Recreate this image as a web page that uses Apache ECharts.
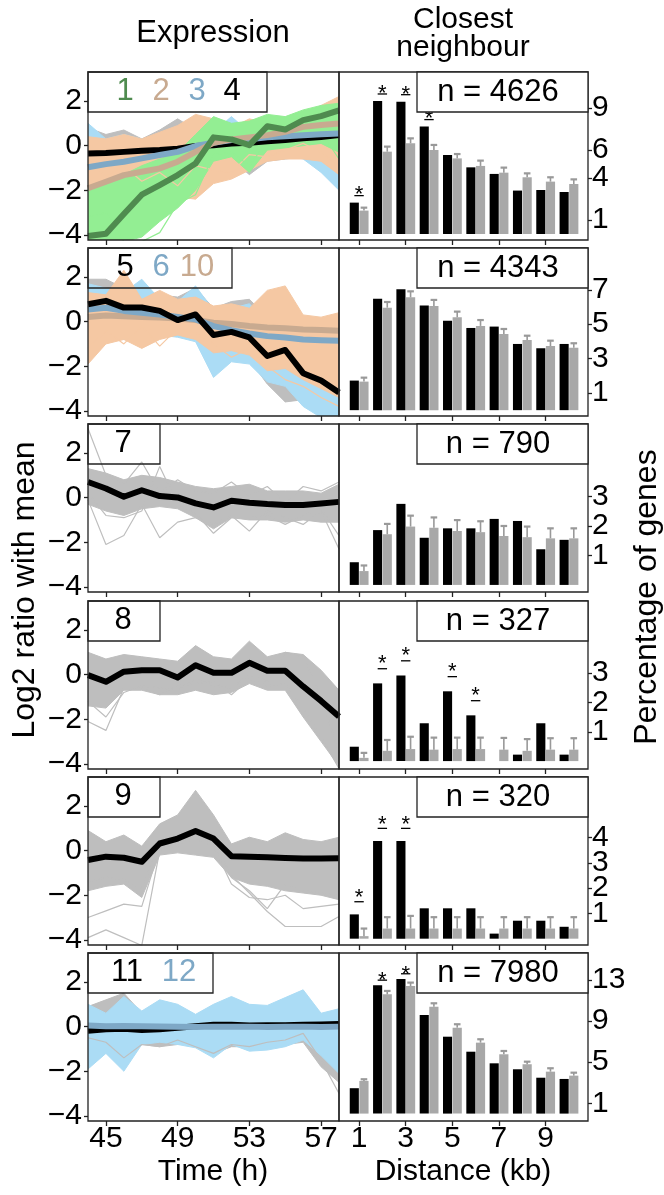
<!DOCTYPE html>
<html><head><meta charset="utf-8">
<script src="https://cdn.jsdelivr.net/npm/echarts@6/dist/echarts.min.js"></script>
<style>html,body{margin:0;padding:0;background:#fff}#c{width:664px;height:1195px}</style>
</head><body><div id="c"></div><script>
// ---------- axes / categories ----------
const hours = [44,45,46,47,48,49,50,51,52,53,54,55,56,57,58];
const distCats = [1,2,3,4,5,6,7,8,9,10];
const timeTicks = [45,49,53,57];
const distTicks = [1,3,5,7,9];
const logTicks = [-4,-2,0,2];
const pctTicks1 = [1,4,6,9];
const pctTicks2 = [1,3,5,7];
const pctTicks3 = [1,2,3];
const pctTicks4 = [1,2,3];
const pctTicks5 = [1,2,3,4];
const pctTicks6 = [1,5,9,13];
const nLabels = ['n = 4626','n = 4343','n = 790','n = 327','n = 320','n = 7980'];

// ---------- expression: panel 1 (clusters 1,2,3,4) ----------
const c1Mean = [-4.05,-3.95,-3.06,-2.2,-1.77,-1.32,-0.8,0.37,0.28,0.02,0.87,0.72,1.14,1.32,1.58];
const c2Mean = [-1.91,-1.62,-1.32,-1.17,-1.02,-0.72,-0.28,0.13,0.28,0.37,0.47,0.62,0.84,0.92,0.99];
const c3Mean = [-0.97,-0.83,-0.72,-0.57,-0.42,-0.28,-0.02,0.13,0.25,0.28,0.37,0.42,0.47,0.51,0.54];
const c4Mean = [-0.35,-0.33,-0.28,-0.23,-0.2,-0.14,-0.02,0.02,0.1,0.13,0.2,0.25,0.33,0.39,0.47];
const c4Hi = [0.8,0.5,0.7,0.3,0.7,1.2,0.7,0.8,0.6,0.6,0.5,0.8,1.4,0.9,0.8];
const c4Lo = [-0.6,-0.5,-0.5,-0.4,-0.4,-0.3,-0.3,-0.4,-0.6,-1.3,-0.7,-0.6,-0.5,-0.4,-0.4];
const c3Hi = [1.0,0.3,0.5,0.3,0.3,0.4,0.8,0.6,1.3,0.6,0.8,0.7,0.7,0.8,0.9];
const c3Lo = [-1.3,-1.1,-1.0,-0.9,-0.8,-0.9,-0.6,-0.6,-0.5,-0.7,-0.4,-0.4,-0.6,-1.2,-2.0];
const c2Hi = [0.4,0.3,0.5,0.3,0.6,0.9,1.4,1.2,0.8,1.2,1.0,1.2,1.4,1.8,2.2];
const c2Lo = [-2.3,-2.2,-2.1,-2.0,-2.0,-2.3,-2.4,-1.7,-1.5,-1.1,-0.7,-0.6,-0.6,-0.7,-1.3];
const c1Hi = [-1.9,-1.7,-1.3,-0.9,-0.6,-0.3,0.5,1.3,1.0,1.1,1.4,1.3,1.6,1.8,1.9];
const c1Lo = [-4.3,-4.3,-4.3,-4.1,-3.4,-2.8,-2.0,-0.7,-0.5,-1.2,-0.2,-0.1,0.0,0.1,-0.3];
const c1TraceA = [-3.2,-3.0,-4.3,-4.3,-3.9,-2.6,-2.2,-0.4,-0.3,-0.9,0.2,0.3,0.4,0.6,-0.6];
const c2TraceA = [-0.6,-1.4,-0.9,-1.6,-1.2,-1.8,-0.9,-1.1,-1.2,-0.4,-0.5,-0.2,0.1,-0.3,-0.9];

// ---------- panel 2 (clusters 5,6,10) ----------
const c5Mean = [0.78,0.93,0.63,0.63,0.48,0.07,0.32,-0.6,-0.46,-0.71,-1.54,-1.27,-2.31,-2.64,-3.18];
const c6Mean = [0.54,0.62,0.48,0.4,0.32,0.21,0.1,-0.2,-0.38,-0.53,-0.65,-0.71,-0.8,-0.83,-0.86];
const c10Mean = [0.21,0.27,0.24,0.21,0.18,0.14,0.07,-0.05,-0.11,-0.2,-0.26,-0.3,-0.35,-0.38,-0.41];
const c5Hi = [1.9,1.9,1.5,1.4,1.2,1.1,1.5,0.6,0.9,1.0,0.2,0.0,-1.2,-1.6,-2.0];
const c5Lo = [-0.2,0.0,-0.3,-0.2,-0.4,-0.6,-0.7,-1.8,-1.6,-1.7,-2.8,-3.6,-3.5,-4.3,-4.3];
const c6Hi = [1.7,1.5,1.3,1.9,1.0,0.9,1.6,0.5,0.6,0.8,0.0,-0.2,-0.5,-0.6,-0.7];
const c6Lo = [-1.5,-0.6,-0.8,-0.8,-0.6,-0.7,-0.9,-2.5,-1.8,-1.9,-2.7,-2.9,-3.8,-4.3,-4.3];
const c10Hi = [1.3,1.2,2.3,1.0,1.4,1.0,1.1,0.7,0.8,0.6,1.4,1.6,0.3,0.2,0.4];
const c10Lo = [-1.9,-1.0,-0.8,-1.2,-0.8,-0.6,-0.8,-1.4,-1.3,-1.5,-2.2,-2.1,-2.6,-3.0,-3.4];
const c10TraceA = [-1.2,-0.4,-1.0,-0.2,-1.1,-0.3,-0.5,-1.0,-1.6,-1.2,-2.0,-2.6,-2.9,-3.4,-3.8];

// ---------- panel 3 (cluster 7) ----------
const c7Mean = [0.7,0.41,0.04,0.33,0.07,0.01,-0.26,-0.44,-0.14,-0.23,-0.29,-0.33,-0.33,-0.26,-0.19];
const c7Hi = [1.3,1.1,0.8,1.0,0.9,0.7,0.5,0.4,0.5,0.6,0.3,0.3,0.3,0.2,0.6];
const c7Lo = [-0.3,-0.6,-0.8,-0.5,-0.4,-0.5,-0.9,-1.4,-0.9,-1.0,-1.0,-1.1,-1.0,-1.1,-1.1];
const c7TraceA = [3.1,1.0,0.6,1.6,0.2,0.8,0.3,0.2,0.7,0.1,0.5,-0.2,0.5,0.3,0.7];
const c7TraceB = [-0.1,-2.1,-1.7,-0.3,-1.8,-1.1,-0.9,-1.2,-0.8,-1.5,-0.6,-0.9,-1.2,-0.6,-2.3];
const c7TraceC = [0.2,-0.8,-0.9,-0.6,1.4,-0.3,-0.7,-1.6,-0.9,-0.9,-0.8,-1.2,-0.8,-0.5,-1.7];

// ---------- panel 4 (cluster 8) ----------
const c8Mean = [-0.02,-0.32,0.13,0.2,0.2,-0.13,0.42,0.08,0.08,0.53,0.17,0.17,-0.53,-1.18,-1.88];
const c8Hi = [1.0,0.7,0.9,0.8,0.7,0.6,1.3,0.8,0.7,1.5,0.8,1.0,0.9,0.2,-0.7];
const c8Lo = [-1.4,-1.5,-0.7,-0.7,-0.9,-0.9,-0.7,-0.9,-0.8,-0.4,-0.7,-0.7,-1.9,-3.0,-4.1];
const c8TraceA = [-2.1,-2.5,-0.6,-0.6,-0.9,-0.5,-0.4,-0.3,-0.9,-0.2,-0.5,-0.4,-1.5,-2.8,-4.2];
const c8TraceB = [-1.2,-1.9,-0.8,-0.5,-0.6,-0.7,-0.2,-0.5,-0.6,0.0,-0.3,1.0,0.8,-1.0,-3.5];

// ---------- panel 5 (cluster 9) ----------
const c9Mean = [-0.42,-0.27,-0.32,-0.5,0.32,0.54,0.88,0.54,-0.25,-0.27,-0.3,-0.33,-0.35,-0.35,-0.34];
const c9Hi = [0.9,0.4,0.7,0.2,1.2,1.6,2.7,1.6,0.3,0.6,0.4,0.8,0.5,0.4,0.6];
const c9Lo = [-1.8,-1.6,-1.5,-2.1,-0.2,-0.1,-0.2,-0.3,-1.2,-1.5,-1.6,-1.8,-1.9,-2.0,-2.2];
const c9TraceA = [-3.0,-2.7,-2.4,-2.5,0.1,0.2,0.8,0.3,-1.1,-1.9,-2.73,-3.4,-3.4,-3.4,-2.95];
const c9TraceB = [-3.9,-3.55,-3.9,-4.25,0.0,0.3,0.5,0.2,-1.5,-2.1,-2.2,-2.0,-2.6,-2.5,-2.4];
const c9TraceC = [-1.4,-1.2,-1.3,-1.7,0.3,0.4,1.0,0.5,-1.2,-1.8,-2.6,-1.5,-1.8,-1.9,-2.0];

// ---------- panel 6 (clusters 11,12) ----------
const c11Mean = [-0.18,-0.12,-0.1,-0.15,-0.12,-0.05,0.02,0.08,0.08,0.05,0.06,0.06,0.08,0.1,0.12];
const c12Mean = [0.05,0.02,0.03,0.02,0.01,0.0,-0.02,0.0,-0.01,0.0,-0.02,-0.01,0.0,-0.02,0.0];
const c11Hi = [0.9,1.2,1.5,0.6,1.1,0.8,0.5,0.7,1.0,0.8,0.9,1.1,1.2,0.5,0.7];
const c11Lo = [-1.5,-1.1,-1.5,-0.8,-0.9,-0.8,-0.8,-1.2,-0.9,-0.9,-1.0,-0.8,-0.7,-1.8,-2.5];
const c12Hi = [1.0,0.6,1.35,0.7,1.2,1.0,0.55,1.0,1.35,1.0,0.95,1.3,1.65,0.6,0.8];
const c12Lo = [-1.9,-1.2,-2.0,-0.8,-0.7,-0.8,-0.95,-1.4,-0.8,-1.1,-1.05,-0.9,-0.6,-1.3,-2.1];
const c11TraceA = [-0.5,-0.7,-1.4,-0.8,-0.9,-0.6,-0.9,-1.2,-0.8,-0.9,-0.7,-0.6,-0.3,-1.5,-3.0];

// ---------- closest neighbour (percentage of genes) ----------
const p1Black = [2.24,9.5,9.45,7.67,5.64,4.76,4.29,3.1,3.14,3.0];
const p1Gray  = [1.67,5.88,6.48,6.0,5.4,4.86,4.38,4.05,3.74,3.57];
const p1Err   = [0.21,0.36,0.35,0.36,0.31,0.38,0.36,0.28,0.31,0.33];
const p1Stars = [1,2,3,4];
const p2Black = [1.72,6.48,7.03,6.08,5.2,4.78,4.86,3.85,3.6,3.85];
const p2Gray  = [1.66,5.96,6.56,6.06,5.4,4.9,4.43,4.08,3.73,3.63];
const p2Err   = [0.23,0.33,0.35,0.35,0.33,0.34,0.29,0.25,0.31,0.26];
const p2Stars = [];
const p3Black = [0.77,1.86,2.75,1.6,1.92,1.92,2.24,2.17,1.21,1.53];
const p3Gray  = [0.47,1.72,1.98,1.94,1.83,1.79,1.66,1.62,1.58,1.58];
const p3Err   = [0.19,0.35,0.37,0.35,0.37,0.37,0.34,0.36,0.34,0.34];
const p3Stars = [];
const p4Black = [0.49,2.65,2.92,1.29,2.38,1.56,0,0.22,1.29,0.22];
const p4Gray  = [0.11,0.35,0.41,0.39,0.41,0.41,0.39,0.35,0.39,0.39];
const p4Err   = [0.17,0.37,0.42,0.41,0.39,0.39,0.4,0.4,0.39,0.39];
const p4Stars = [2,3,5,6];
const p5Black = [0.96,3.86,3.86,1.2,1.2,1.2,0.2,0.71,0.71,0.47];
const p5Gray  = [0.1,0.4,0.4,0.4,0.4,0.4,0.4,0.4,0.4,0.4];
const p5Err   = [0.3,0.45,0.5,0.45,0.45,0.45,0.45,0.45,0.45,0.45];
const p5Stars = [1,2,3];
const p6Black = [2.47,12.48,13.1,9.6,7.48,6.02,4.89,4.31,3.49,3.37];
const p6Gray  = [3.18,11.6,12.4,10.4,8.36,6.9,5.77,4.8,4.08,3.69];
const p6Err   = [0.16,0.33,0.34,0.33,0.33,0.33,0.32,0.25,0.33,0.29];
const p6Stars = [2,3];

// ---------- styling / layout ----------
const FONT = '"Liberation Sans", Arial, Helvetica, sans-serif';
const GRAY_T = '#bebebe', PEACH_T = '#f5c8a3', GREEN_T = '#93ee93', BLUE_T = '#abdcf5';
const GREEN_M = '#4f8b4f', TAN_M = '#c8aa90', BLUE_M = '#7ea8c6';
const BAR_GRAY = '#a8a8a8', ERR_C = '#999999';
const tops = [72, 248, 424, 601, 777, 953];
const PH = 168;
const LX = 88, LW = 251, RX = 339, RW = 249;
const DIST_MIN = 0.14, DIST_MAX = 10.82;
const rightRange = [[-0.43,11.57],[-0.34,9.43],[-0.24,5.46],[-0.27,5.46],[-0.25,6.39],[-0.72,15.62]];
const rightTicks = [pctTicks1,pctTicks2,pctTicks3,pctTicks4,pctTicks5,pctTicks6];

const leftPanels = [
  { bands:[[c4Lo,c4Hi,GRAY_T],[c3Lo,c3Hi,BLUE_T],[c2Lo,c2Hi,PEACH_T],[c1Lo,c1Hi,GREEN_T]],
    traces:[[c2TraceA,PEACH_T],[c1TraceA,GREEN_T]],
    means:[[c4Mean,'#000'],[c3Mean,BLUE_M],[c2Mean,TAN_M],[c1Mean,GREEN_M]],
    legend:{w:179, items:[['1',125,GREEN_M],['2',161,TAN_M],['3',197,BLUE_M],['4',232,'#000']]} },
  { bands:[[c5Lo,c5Hi,GRAY_T],[c6Lo,c6Hi,BLUE_T],[c10Lo,c10Hi,PEACH_T]],
    traces:[[c10TraceA,PEACH_T]],
    means:[[c10Mean,TAN_M],[c6Mean,BLUE_M],[c5Mean,'#000']],
    legend:{w:144, items:[['5',125,'#000'],['6',161,BLUE_M],['10',197,TAN_M]]} },
  { bands:[[c7Lo,c7Hi,GRAY_T]],
    traces:[[c7TraceA,GRAY_T],[c7TraceB,GRAY_T],[c7TraceC,GRAY_T]],
    means:[[c7Mean,'#000']],
    legend:{w:72, items:[['7',123,'#000']]} },
  { bands:[[c8Lo,c8Hi,GRAY_T]],
    traces:[[c8TraceA,GRAY_T],[c8TraceB,GRAY_T]],
    means:[[c8Mean,'#000']],
    legend:{w:72, items:[['8',123,'#000']]} },
  { bands:[[c9Lo,c9Hi,GRAY_T]],
    traces:[[c9TraceA,GRAY_T],[c9TraceB,GRAY_T],[c9TraceC,GRAY_T]],
    means:[[c9Mean,'#000']],
    legend:{w:72, items:[['9',123,'#000']]} },
  { bands:[[c11Lo,c11Hi,GRAY_T],[c12Lo,c12Hi,BLUE_T]],
    traces:[[c11TraceA,GRAY_T]],
    means:[[c11Mean,'#000'],[c12Mean,BLUE_M]],
    legend:{w:125, items:[['11',127,'#000'],['12',179,BLUE_M]]} }
];
const rightPanels = [
  [p1Black,p1Gray,p1Err,p1Stars],[p2Black,p2Gray,p2Err,p2Stars],[p3Black,p3Gray,p3Err,p3Stars],
  [p4Black,p4Gray,p4Err,p4Stars],[p5Black,p5Gray,p5Err,p5Stars],[p6Black,p6Gray,p6Err,p6Stars]
];

const minusFmt = v => (v < 0 ? '\u2212' + Math.abs(v) : String(v));
const labelStyle = {fontSize:30, fontFamily:FONT, color:'#000', hideOverlap:false};
const tickStyle = {color:'#222', width:1.3};
const noLine = {show:false, onZero:false};

const option = {animation:false, backgroundColor:'#fff', grid:[], xAxis:[], yAxis:[], series:[], graphic:[]};

function bandSeries(gi, lo, hi, col) {
  return {type:'custom', xAxisIndex:gi, yAxisIndex:gi, silent:true, clip:true,
    data:hours.map((h,k)=>[h, lo[k], hi[k]]), encode:{x:0, y:[1,2]},
    renderItem:(params, api) => {
      if (params.dataIndexInside !== 0) return {type:'group', children:[]};
      const n = params.dataInsideLength, pts = [];
      for (let j = 0; j < n; j++) pts.push(api.coord([api.value(0, j), api.value(2, j)]));
      for (let j = n - 1; j >= 0; j--) pts.push(api.coord([api.value(0, j), api.value(1, j)]));
      return {type:'polygon', shape:{points:pts}, style:{fill:col, stroke:col, lineWidth:1}};
    }};
}

for (let i = 0; i < 6; i++) {
  option.grid[i] = {left:LX, top:tops[i], width:LW, height:PH, show:true, borderColor:'#222', borderWidth:1.3, z:10};
  option.grid[6+i] = {left:RX, top:tops[i], width:RW, height:PH, show:true, borderColor:'#222', borderWidth:1.3, z:10};
  option.xAxis[i] = {gridIndex:i, type:'value', min:44, max:58, splitLine:{show:false}, axisLine:noLine,
    axisTick:{show:true, length:5, customValues:timeTicks, lineStyle:tickStyle},
    axisLabel:Object.assign({show:i===5, customValues:timeTicks, margin:3}, labelStyle)};
  option.yAxis[i] = {gridIndex:i, type:'value', min:-4.23, max:3.3, splitLine:{show:false}, axisLine:noLine,
    axisTick:{show:true, length:4, customValues:logTicks, lineStyle:tickStyle},
    axisLabel:Object.assign({customValues:logTicks, formatter:minusFmt, margin:6}, labelStyle)};
  option.xAxis[6+i] = {gridIndex:6+i, type:'value', min:DIST_MIN, max:DIST_MAX, splitLine:{show:false}, axisLine:noLine,
    axisTick:{show:true, length:5, customValues:distTicks, lineStyle:tickStyle},
    axisLabel:Object.assign({show:i===5, customValues:distTicks, margin:3}, labelStyle)};
  option.yAxis[6+i] = {gridIndex:6+i, type:'value', position:'right', min:rightRange[i][0], max:rightRange[i][1],
    splitLine:{show:false}, axisLine:noLine,
    axisTick:{show:true, length:4, customValues:rightTicks[i], lineStyle:tickStyle},
    axisLabel:{show:false}};

  const lp = leftPanels[i];
  lp.bands.forEach(b => option.series.push(bandSeries(i, b[0], b[1], b[2])));
  lp.traces.forEach(t => {
    option.series.push({type:'line', xAxisIndex:i, yAxisIndex:i, symbol:'none',
      data:hours.map((h,k)=>[h, t[0][k]]), lineStyle:{color:t[1], width:1.2}, silent:true});
  });
  lp.means.forEach(m => {
    option.series.push({type:'line', xAxisIndex:i, yAxisIndex:i, symbol:'none',
      data:hours.map((h,k)=>[h, m[0][k]]), lineStyle:{color:m[1], width:6, join:'round'}, silent:true});
  });

  const [bk, gr, er, st] = rightPanels[i];
  option.series.push({type:'custom', xAxisIndex:6+i, yAxisIndex:6+i, silent:true,
    data:distCats.map((c,k)=>[c, bk[k], gr[k], er[k]]), encode:{x:0, y:1},
    renderItem:(params, api) => {
      const c = api.value(0), b = api.value(1), g = api.value(2), e = api.value(3);
      const base = api.coord([c, 0]), pb = api.coord([c, b]), pg = api.coord([c, g]), pe = api.coord([c, g + e]);
      const x = base[0], y0 = base[1];
      return {type:'group', children:[
        {type:'rect', shape:{x:x-9.3, y:pb[1], width:9.1, height:y0-pb[1]}, style:{fill:'#000'}},
        {type:'rect', shape:{x:x+0.3, y:pg[1], width:9.2, height:y0-pg[1]}, style:{fill:BAR_GRAY}},
        {type:'line', shape:{x1:x+4.9, y1:pg[1], x2:x+4.9, y2:pe[1]}, style:{stroke:ERR_C, lineWidth:1.6}},
        {type:'line', shape:{x1:x+1.6, y1:pe[1], x2:x+8.2, y2:pe[1]}, style:{stroke:ERR_C, lineWidth:2.2}}
      ]};
    }});
  if (st.length) {
    option.series.push({type:'custom', xAxisIndex:6+i, yAxisIndex:6+i, silent:true,
      data:st.map(c => [c, bk[c-1]]), encode:{x:0, y:1},
      renderItem:(params, api) => {
        const c = api.value(0), v = api.value(1);
        const pu = api.coord([c, v + 0.5]), ps = api.coord([c, v + 0.8]);
        return {type:'group', children:[
          {type:'line', shape:{x1:pu[0]-4.7, y1:pu[1], x2:pu[0]+4.7, y2:pu[1]}, style:{stroke:'#000', lineWidth:1.3}},
          {type:'text', x:ps[0], y:ps[1]+4, style:{text:'*', fontSize:22, fontFamily:FONT, fill:'#000', align:'center', verticalAlign:'middle'}}
        ]};
      }});
  }
  // right-hand percentage tick labels, placed through the panel's own y scale
  option.series.push({type:'custom', xAxisIndex:6+i, yAxisIndex:6+i, silent:true, clip:false,
    data:rightTicks[i].map(v => [DIST_MAX, v]), encode:{x:0, y:1},
    renderItem:(params, api) => {
      const p = api.coord([api.value(0), api.value(1)]);
      return {type:'text', x:p[0]+4, y:p[1], style:{text:String(api.value(1)), fontSize:30, fontFamily:FONT, fill:'#000', align:'left', verticalAlign:'middle'}};
    }});

  // legend boxes (left) and n boxes (right)
  option.graphic.push({type:'rect', z:20, shape:{x:LX, y:tops[i], width:lp.legend.w, height:40}, style:{fill:'none', stroke:'#222', lineWidth:1.3}});
  lp.legend.items.forEach(it => {
    option.graphic.push({type:'text', z:21, x:it[1], y:tops[i]+19, style:{text:it[0], fontSize:31, fontFamily:FONT, fill:it[2], align:'center', verticalAlign:'middle'}});
  });
  option.graphic.push({type:'rect', z:20, shape:{x:417, y:tops[i], width:171, height:40}, style:{fill:'#fff', stroke:'#222', lineWidth:1.3}});
  option.graphic.push({type:'text', z:21, x:498, y:tops[i]+20, style:{text:nLabels[i], fontSize:31, fontFamily:FONT, fill:'#000', align:'center', verticalAlign:'middle'}});
}

// titles
const T = (text, x, y, rot, fs) => ({type:'text', z:30, x, y, rotation:rot||0,
  style:{text, fontSize:fs||30, fontFamily:FONT, fill:'#000', align:'center', verticalAlign:'middle'}});
option.graphic.push(T('Expression', 213, 33, 0, 31));
option.graphic.push(T('Closest', 463, 20));
option.graphic.push(T('neighbour', 463, 48));
option.graphic.push(T('Time (h)', 213, 1172));
option.graphic.push(T('Distance (kb)', 463, 1172));
option.graphic.push(T('Log2 ratio with mean', 25, 590, Math.PI/2, 32));
option.graphic.push(T('Percentage of genes', 647, 597, Math.PI/2, 32));

const chart = echarts.init(document.getElementById('c'), null, {renderer:'canvas'});
chart.setOption(option);
</script></body></html>
